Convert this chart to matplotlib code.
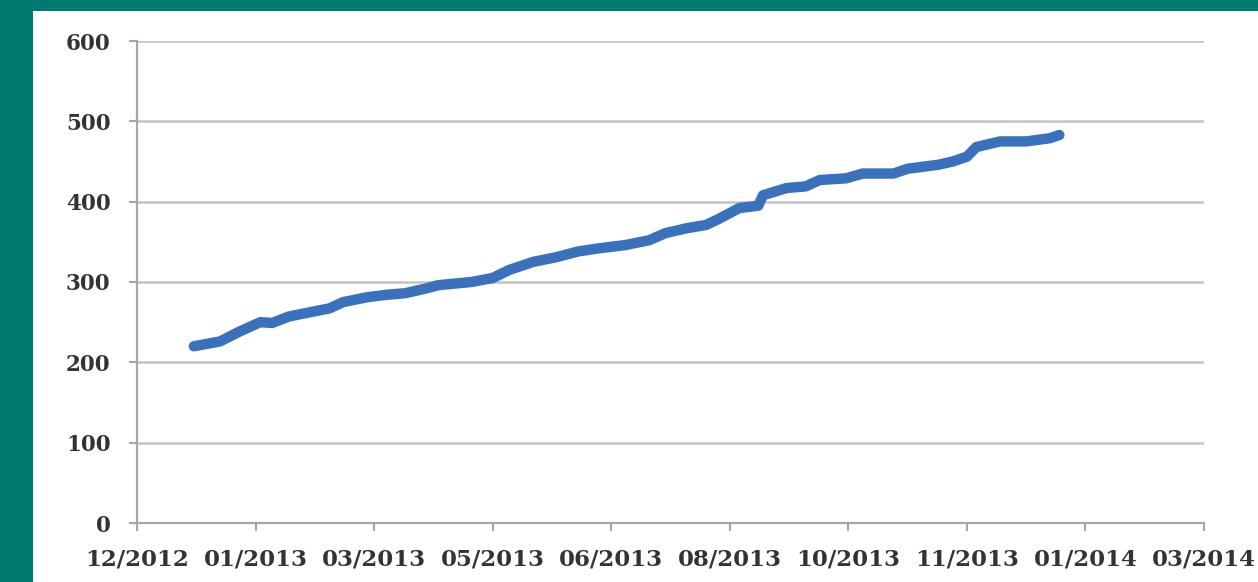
import numpy as np
import pandas as pd
import matplotlib
matplotlib.use("Agg")
import matplotlib.pyplot as plt
import matplotlib.dates as mdates
from matplotlib.patches import Rectangle

# --- dati (conteggio cumulativo) --------------------------------------------
dates = ["2013-01-02", "2013-01-13", "2013-01-21", "2013-01-30", "2013-02-04",
         "2013-02-11", "2013-02-21", "2013-02-28", "2013-03-06", "2013-03-16",
         "2013-03-24", "2013-04-01", "2013-04-10", "2013-04-15", "2013-04-29",
         "2013-05-08", "2013-05-15", "2013-05-25", "2013-06-04", "2013-06-13",
         "2013-06-22", "2013-07-03", "2013-07-13", "2013-07-20", "2013-07-29",
         "2013-08-06", "2013-08-11", "2013-08-20", "2013-08-28", "2013-08-30",
         "2013-09-09", "2013-09-17", "2013-09-23", "2013-10-04", "2013-10-11",
         "2013-10-24", "2013-10-30", "2013-11-12", "2013-11-18", "2013-11-24",
         "2013-11-28", "2013-12-08", "2013-12-19", "2013-12-29", "2014-01-02"]
values = [220, 226, 238, 250, 249,
          257, 263, 267, 275, 281,
          284, 286, 292, 296, 300,
          305, 315, 325, 331, 338,
          342, 346, 352, 361, 367,
          371, 378, 392, 395, 408,
          417, 419, 427, 429, 435,
          435, 441, 446, 450, 456,
          468, 475, 475, 479, 483]
y_ticks = [0, 100, 200, 300, 400, 500, 600]
x_start = "2012-12-09"   # inizio asse, tick ogni 50 giorni
x_step_days = 50
n_xticks = 10

x = pd.to_datetime(dates)
x0 = pd.Timestamp(x_start)
xticks = [x0 + pd.Timedelta(days=x_step_days * k) for k in range(n_xticks)]

fig = plt.figure(figsize=(12.58, 5.82), dpi=100)
fig.patch.set_facecolor("#007A70")
fig.add_artist(Rectangle((33 / 1258, 0), 1 - 33 / 1258, 1 - 11 / 582,
                         transform=fig.transFigure, facecolor="white",
                         edgecolor="none", zorder=0))

ax = fig.add_axes([137 / 1258, 1 - 523 / 582, (1204 - 137) / 1258, (523 - 41) / 582])
ax.set_facecolor("none")
ax.plot(x, values, color="#3A71BD", lw=7.5, solid_capstyle="round",
        solid_joinstyle="round", zorder=3)

ax.set_ylim(0, 600)
ax.set_yticks(y_ticks)
ax.set_xlim(xticks[0], xticks[-1])
ax.set_xticks(xticks)
ax.xaxis.set_major_formatter(mdates.DateFormatter("%m/%Y"))

ax.grid(axis="y", color="#C4C4C4", lw=1.8)
ax.set_axisbelow(True)
for s in ("top", "right"):
    ax.spines[s].set_visible(False)
for s in ("left", "bottom"):
    ax.spines[s].set_color("#A6A6A6")
    ax.spines[s].set_linewidth(1.6)

ax.tick_params(axis="both", colors="#A6A6A6", width=1.5, length=6,
               labelcolor="#333333")
ax.tick_params(axis="y", pad=13)
ax.tick_params(axis="x", pad=12)
for lab in ax.get_yticklabels():
    lab.set_fontfamily("DejaVu Serif")
    lab.set_fontweight("bold")
    lab.set_fontsize(15.5)
for lab in ax.get_xticklabels():
    lab.set_fontfamily("DejaVu Serif")
    lab.set_fontweight("bold")
    lab.set_fontsize(16.5)

fig.savefig("out.png", dpi=100, facecolor=fig.get_facecolor())
